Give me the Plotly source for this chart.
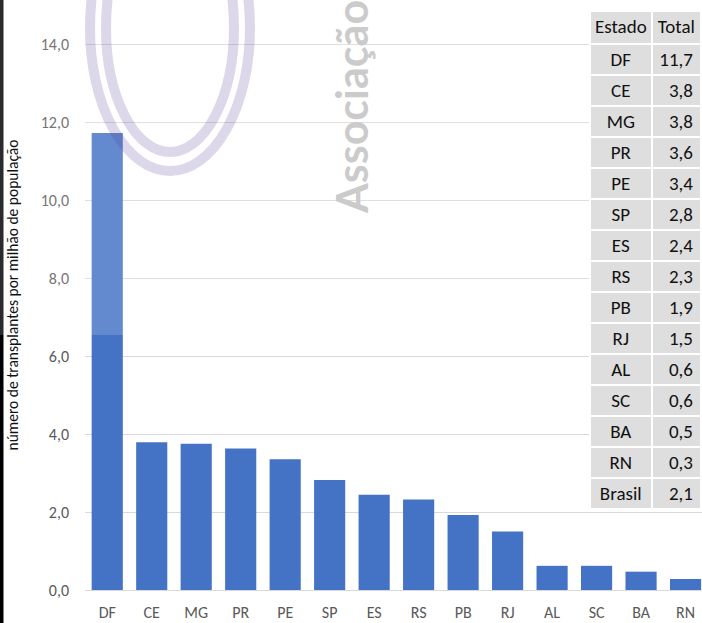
import plotly.graph_objects as go

# ---- data ----
states = ["DF", "CE", "MG", "PR", "PE", "SP", "ES", "RS", "PB", "RJ", "AL", "SC", "BA", "RN"]
values = [11.72, 3.79, 3.75, 3.63, 3.35, 2.82, 2.44, 2.32, 1.92, 1.50, 0.62, 0.62, 0.47, 0.28]

table_states = ["DF", "CE", "MG", "PR", "PE", "SP", "ES", "RS", "PB", "RJ", "AL", "SC", "BA", "RN", "Brasil"]
table_totals = [11.7, 3.8, 3.8, 3.6, 3.4, 2.8, 2.4, 2.3, 1.9, 1.5, 0.6, 0.6, 0.5, 0.3, 2.1]

y_title = "número de transplantes por milhão de população"
watermark = "Associação"

# ---- geometry helpers (pixel -> paper) ----
W, H = 702, 623
ML, MR, MT, MB = 85, 0, 0, 33
PW = W - ML - MR
PH = H - MT - MB


def px(x):
    return (x - ML) / PW


def py(y):
    return (PH + MT - y) / PH


FONT = "Carlito, Calibri, Lato, sans-serif"

fig = go.Figure()

fig.add_trace(go.Bar(
    x=states, y=values,
    marker=dict(color="#4472C4", line=dict(width=0)),
    width=0.7,
    hoverinfo="x+y",
))

fig.add_trace(go.Table(
    domain=dict(x=[px(590), 1.0], y=[py(512), py(11)]),
    columnwidth=[61, 49],
    header=dict(
        values=["Estado", "Total"],
        fill_color="#dedede",
        line=dict(color="white", width=2),
        align=["center", "center"],
        height=33,
        font=dict(family=FONT, size=19, color="#111111"),
    ),
    cells=dict(
        values=[table_states, [f"{v:.1f}".replace(".", ",") for v in table_totals]],
        fill_color="#dedede",
        line=dict(color="white", width=2),
        align=["center", "right"],
        height=31,
        font=dict(family=FONT, size=19, color="#111111"),
    ),
))

shapes = [
    # dark left border strip of the screenshot
    dict(type="rect", xref="paper", yref="paper", x0=px(0), x1=px(3.5), y0=py(H), y1=py(0),
         fillcolor="#000000", line=dict(width=0), layer="above"),
    # translucent watermark veil
    dict(type="rect", xref="paper", yref="paper", x0=px(0), x1=px(590), y0=py(335), y1=py(0),
         fillcolor="rgba(255,255,255,0.17)", line=dict(width=0), layer="above"),
    # watermark rings
    dict(type="circle", xref="paper", yref="paper", x0=px(90), x1=px(250), y0=py(171), y1=py(-115),
         line=dict(color="rgba(80,60,150,0.2)", width=10), fillcolor="rgba(0,0,0,0)", layer="above"),
    dict(type="circle", xref="paper", yref="paper", x0=px(106), x1=px(234), y0=py(152), y1=py(-96),
         line=dict(color="rgba(80,60,150,0.2)", width=10), fillcolor="rgba(0,0,0,0)", layer="above"),
]

fig.update_layout(
    width=W, height=H,
    margin=dict(l=ML, r=MR, t=MT, b=MB),
    paper_bgcolor="white", plot_bgcolor="white",
    separators=",.",
    showlegend=False,
    font=dict(family=FONT, color="#595959"),
    shapes=shapes,
    annotations=[dict(
        text=watermark, xref="paper", yref="paper",
        x=px(351), y=py(216), xanchor="center", yanchor="bottom",
        textangle=-90, showarrow=False,
        font=dict(family="Lato, sans-serif", size=43, color="#cbcbcb", weight="bold"),
    )],
)

fig.update_xaxes(
    type="category", range=[-0.5, 13.37],
    showgrid=False, showline=False, ticks="",
    tickfont=dict(family=FONT, size=16, color="#595959"),
    ticklabelstandoff=11,
)
fig.update_yaxes(
    range=[0, PH / 39.0], dtick=2, tick0=0, tickformat=".1f",
    showgrid=True, gridcolor="#d9d9d9", gridwidth=1,
    zeroline=True, zerolinecolor="#d9d9d9", zerolinewidth=1,
    showline=False, ticks="",
    tickfont=dict(family=FONT, size=16, color="#595959"),
    ticklabelstandoff=15,
    title=dict(text=y_title, font=dict(family=FONT, size=15.5, color="#111111"), standoff=18),
)

fig.write_html(
    "out.html",
    config={"displayModeBar": False},
    post_script="document.body.style.margin='0';document.body.style.overflow='hidden';",
)
